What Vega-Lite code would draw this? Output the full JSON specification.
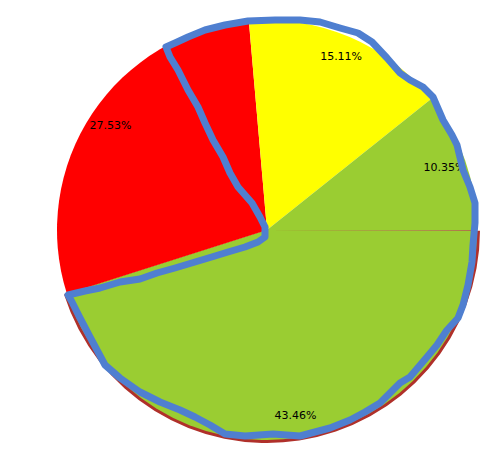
{
  "$schema": "https://vega.github.io/schema/vega-lite/v6.json",
  "width": 446,
  "height": 456,
  "autosize": {"type": "none"},
  "padding": {"left": 44, "top": 2, "right": 0, "bottom": 0},
  "background": "white",
  "config": {"view": {"stroke": null}},
  "datasets": {
    "pie": [
      {"slice": "a", "order": 0, "value": 0.06, "label": "", "rim": "transparent"},
      {"slice": "b", "order": 1, "value": 43.46, "label": "43.46%", "rim": "#b0302a"},
      {"slice": "c", "order": 2, "value": 27.53, "label": "27.53%", "rim": "transparent"},
      {"slice": "d", "order": 3, "value": 15.11, "label": "15.11%", "rim": "transparent"},
      {"slice": "e", "order": 4, "value": 10.35, "label": "10.35%", "rim": "transparent"}
    ],
    "outline": [
      {"i":0,"px":265,"py":227},{"i":1,"px":260,"py":217},{"i":2,"px":252,"py":203},{"i":3,"px":238,"py":187},
      {"i":4,"px":230,"py":173},{"i":5,"px":223,"py":157},{"i":6,"px":213,"py":140},{"i":7,"px":205,"py":123},
      {"i":8,"px":198,"py":107},{"i":9,"px":188,"py":90},{"i":10,"px":178,"py":70},{"i":11,"px":170,"py":57},
      {"i":12,"px":166,"py":47},{"i":13,"px":175,"py":43},{"i":14,"px":188,"py":37},{"i":15,"px":205,"py":30},
      {"i":16,"px":225,"py":25},{"i":17,"px":248,"py":21},{"i":18,"px":275,"py":20},{"i":19,"px":300,"py":20},
      {"i":20,"px":320,"py":22},{"i":21,"px":340,"py":28},{"i":22,"px":358,"py":33},{"i":23,"px":372,"py":42},
      {"i":24,"px":387,"py":58},{"i":25,"px":400,"py":73},{"i":26,"px":410,"py":80},{"i":27,"px":423,"py":87},
      {"i":28,"px":433,"py":97},{"i":29,"px":443,"py":120},{"i":30,"px":452,"py":135},{"i":31,"px":457,"py":145},
      {"i":32,"px":463,"py":170},{"i":33,"px":470,"py":187},{"i":34,"px":475,"py":203},{"i":35,"px":475,"py":223},
      {"i":36,"px":473,"py":245},{"i":37,"px":472,"py":262},{"i":38,"px":468,"py":285},{"i":39,"px":463,"py":305},
      {"i":40,"px":458,"py":318},{"i":41,"px":447,"py":330},{"i":42,"px":437,"py":345},{"i":43,"px":427,"py":357},
      {"i":44,"px":410,"py":377},{"i":45,"px":400,"py":383},{"i":46,"px":380,"py":403},{"i":47,"px":365,"py":412},
      {"i":48,"px":350,"py":420},{"i":49,"px":330,"py":428},{"i":50,"px":300,"py":436},{"i":51,"px":273,"py":434},
      {"i":52,"px":245,"py":436},{"i":53,"px":225,"py":434},{"i":54,"px":210,"py":425},{"i":55,"px":195,"py":417},
      {"i":56,"px":180,"py":410},{"i":57,"px":160,"py":402},{"i":58,"px":140,"py":392},{"i":59,"px":120,"py":378},
      {"i":60,"px":105,"py":365},{"i":61,"px":90,"py":337},{"i":62,"px":80,"py":318},{"i":63,"px":72,"py":302},
      {"i":64,"px":68,"py":295},{"i":65,"px":85,"py":291},{"i":66,"px":100,"py":288},{"i":67,"px":120,"py":282},
      {"i":68,"px":140,"py":279},{"i":69,"px":157,"py":273},{"i":70,"px":175,"py":268},{"i":71,"px":195,"py":262},
      {"i":72,"px":215,"py":256},{"i":73,"px":228,"py":252},{"i":74,"px":245,"py":247},{"i":75,"px":258,"py":242},
      {"i":76,"px":265,"py":237},{"i":77,"px":265,"py":227}
    ]
  },
  "layer": [
    {
      "data": {"name": "pie"},
      "mark": {"type": "arc", "outerRadius": 213},
      "encoding": {
        "theta": {"field": "value", "type": "quantitative", "stack": true, "scale": {"range": [1.5708, 7.854]}},
        "order": {"field": "order", "type": "quantitative"},
        "color": {"field": "rim", "type": "nominal", "scale": null}
      }
    },
    {
      "data": {"name": "pie"},
      "mark": {"type": "arc", "outerRadius": 210},
      "encoding": {
        "theta": {"field": "value", "type": "quantitative", "stack": true, "scale": {"range": [1.5708, 7.854]}},
        "order": {"field": "order", "type": "quantitative"},
        "color": {
          "field": "slice", "type": "nominal", "legend": null,
          "scale": {"domain": ["a", "b", "c", "d", "e"], "range": ["#a52a2a", "#9acd32", "#ff0000", "#ffff00", "#9acd32"]}
        }
      }
    },
    {
      "data": {"name": "pie"},
      "mark": {"type": "text", "radius": 188, "font": "DejaVu Sans", "fontSize": 11, "color": "black"},
      "encoding": {
        "theta": {"field": "value", "type": "quantitative", "stack": true, "scale": {"range": [1.5708, 7.854]}},
        "order": {"field": "order", "type": "quantitative"},
        "text": {"field": "label", "type": "nominal"}
      }
    },
    {
      "data": {"name": "outline"},
      "mark": {"type": "line", "stroke": "#4f7fd0", "strokeWidth": 7, "strokeCap": "round", "strokeJoin": "round", "clip": false},
      "encoding": {
        "x": {"field": "px", "type": "quantitative", "scale": {"domain": [44, 490], "nice": false, "zero": false}, "axis": null},
        "y": {"field": "py", "type": "quantitative", "scale": {"domain": [2, 458], "nice": false, "zero": false, "reverse": true}, "axis": null},
        "order": {"field": "i", "type": "quantitative"}
      }
    }
  ]
}
